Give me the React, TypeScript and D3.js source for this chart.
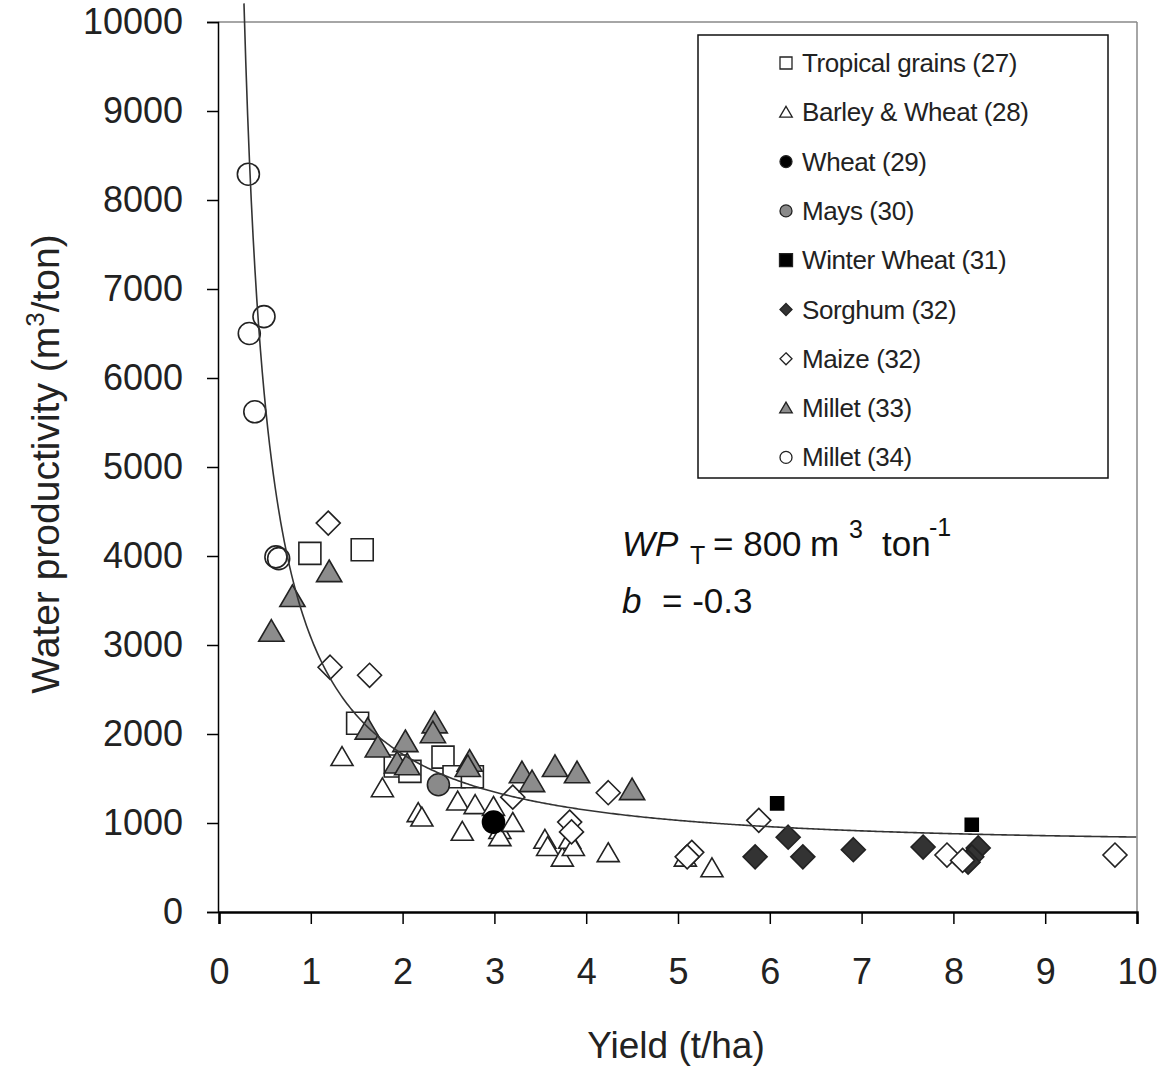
import React, { useEffect, useRef } from "react";
import * as d3 from "d3";

// [yield t/ha, water productivity m3/ton]
const tropicalGrains = [[0.99, 4030], [1.56, 4070], [1.51, 2120], [1.92, 1640], [2.08, 1580], [2.44, 1740], [2.56, 1520], [2.76, 1520]];
const barleyWheat = [[1.34, 1740], [1.78, 1390], [2.17, 1110], [2.21, 1060], [2.6, 1240], [2.79, 1200], [2.65, 900], [2.99, 1180], [3.06, 920], [3.06, 840], [3.2, 1000], [3.55, 810], [3.58, 730], [3.74, 610], [3.82, 810], [3.86, 730], [4.24, 660], [5.08, 610], [5.37, 490]];
const wheat = [[2.99, 1010]];
const mays = [[2.39, 1430]];
const winterWheat = [[6.08, 1220], [8.2, 980]];
const sorghum = [[5.84, 620], [6.2, 840], [6.36, 620], [6.91, 700], [7.67, 730], [8.27, 720], [8.2, 620], [8.16, 560]];
const maize = [[1.19, 4370], [1.21, 2750], [1.64, 2660], [3.2, 1290], [3.82, 1010], [3.84, 900], [4.24, 1340], [5.15, 670], [5.1, 620], [5.88, 1030], [7.93, 640], [8.1, 580], [9.76, 640]];
const millet33 = [[0.57, 3150], [0.8, 3540], [1.2, 3820], [1.62, 2050], [1.73, 1850], [2.03, 1910], [1.94, 1670], [2.05, 1650], [2.35, 2120], [2.33, 2010], [2.73, 1690], [2.71, 1630], [3.3, 1560], [3.41, 1460], [3.66, 1630], [3.9, 1560], [4.5, 1370]];
const millet34 = [[0.32, 8290], [0.33, 6500], [0.49, 6690], [0.39, 5620], [0.62, 3990], [0.65, 3970]];

const xTicks = [0, 1, 2, 3, 4, 5, 6, 7, 8, 9, 10];
const yTicks = [0, 1000, 2000, 3000, 4000, 5000, 6000, 7000, 8000, 9000, 10000];

// fitted model parameters
const WPT = 800;
const B = -0.3;

const series = [
  { name: "Tropical grains (27)", data: tropicalGrains, shape: "square", fill: "#fff", size: 22 },
  { name: "Barley & Wheat (28)", data: barleyWheat, shape: "triangle", fill: "#fff", size: 21 },
  { name: "Wheat (29)", data: wheat, shape: "circle", fill: "#000", size: 22 },
  { name: "Mays (30)", data: mays, shape: "circle", fill: "#8a8a8a", size: 22 },
  { name: "Winter Wheat (31)", data: winterWheat, shape: "square", fill: "#000", size: 13 },
  { name: "Sorghum (32)", data: sorghum, shape: "diamond", fill: "#333", size: 24 },
  { name: "Maize (32)", data: maize, shape: "diamond", fill: "#fff", size: 24 },
  { name: "Millet (33)", data: millet33, shape: "triangle", fill: "#8c8c8c", size: 24 },
  { name: "Millet (34)", data: millet34, shape: "circle", fill: "none", size: 22 },
];

const shapePath = (shape, s) => {
  const h = s / 2;
  if (shape === "square") return `M${-h},${-h}H${h}V${h}H${-h}Z`;
  if (shape === "diamond") return `M0,${-h}L${h},0L0,${h}L${-h},0Z`;
  if (shape === "triangle") return `M0,${-h}L${h * 1.05},${h * 0.8}L${-h * 1.05},${h * 0.8}Z`;
  return d3.arc()({ innerRadius: 0, outerRadius: h, startAngle: 0, endAngle: 2 * Math.PI });
};

const App = () => {
  const ref = useRef(null);

  useEffect(() => {
    const svg = d3.select(ref.current);
    svg.selectAll("*").remove();
    const font = "'Liberation Sans', Arial, sans-serif";

    const x = d3.scaleLinear().domain([0, 10]).range([219, 1137]);
    const y = d3.scaleLinear().domain([0, 10000]).range([912, 22]);

    // frame
    svg.append("line").attr("x1", 218).attr("x2", 1137).attr("y1", y(10000)).attr("y2", y(10000))
      .attr("stroke", "#888").attr("stroke-width", 1.5);
    svg.append("line").attr("x1", 1137).attr("x2", 1137).attr("y1", y(10000)).attr("y2", y(0))
      .attr("stroke", "#888").attr("stroke-width", 1.5);

    const yAxisG = svg.append("g").attr("transform", `translate(${x(0) - 1},0)`)
      .call(d3.axisLeft(y).tickValues(yTicks).tickSize(11).tickPadding(24).tickFormat(d3.format("d")));
    yAxisG.selectAll("text").attr("font-size", 36).attr("font-family", font).attr("fill", "#222");
    yAxisG.selectAll("line, path").attr("stroke", "#000").attr("stroke-width", 1.5);

    const xAxisG = svg.append("g").attr("transform", `translate(0,${y(0)})`)
      .call(d3.axisBottom(x).tickValues(xTicks).tickSize(12).tickPadding(34).tickFormat(d3.format("d")));
    xAxisG.selectAll("text").attr("font-size", 36).attr("font-family", font).attr("fill", "#222");
    xAxisG.selectAll("line, path").attr("stroke", "#000").attr("stroke-width", 1.5);
    xAxisG.select(".domain").attr("stroke-width", 2.5);

    svg.append("text").attr("x", (x(0) + x(10)) / 2 - 2).attr("y", 1058).attr("text-anchor", "middle")
      .attr("font-size", 37).attr("font-family", font).attr("fill", "#222").text("Yield (t/ha)");

    const yl = svg.append("text").attr("transform", `translate(59,464) rotate(-90)`)
      .attr("text-anchor", "middle").attr("font-size", 39).attr("font-family", font).attr("fill", "#222");
    yl.append("tspan").text("Water productivity (m");
    yl.append("tspan").attr("font-size", 26).attr("dy", -15).text("3");
    yl.append("tspan").attr("dy", 15).text("/ton)");

    // points
    series.forEach(s => {
      svg.append("g").selectAll("path").data(s.data).join("path")
        .attr("transform", d => `translate(${x(d[0])},${y(d[1])})`)
        .attr("d", shapePath(s.shape, s.size))
        .attr("fill", s.fill)
        .attr("stroke", s.fill === "#000" ? "#000" : "#222")
        .attr("stroke-width", 1.6);
    });

    // fitted curve WP = WPT / (1 - exp(b*Y))
    const curveX = d3.range(0.272, 10.001, 0.02);
    const line = d3.line().x(d => x(d)).y(d => y(WPT / (1 - Math.exp(B * d))));
    svg.append("path").attr("d", line(curveX)).attr("fill", "none")
      .attr("stroke", "#333").attr("stroke-width", 1.6);

    // legend
    const lg = svg.append("g");
    lg.append("rect").attr("x", 698).attr("y", 35).attr("width", 410).attr("height", 443)
      .attr("fill", "#fff").attr("stroke", "#111").attr("stroke-width", 1.5);
    series.forEach((s, i) => {
      const cy = 63 + i * 49.3;
      lg.append("path").attr("transform", `translate(786,${cy})`)
        .attr("d", shapePath(s.shape, s.shape === "square" && s.fill === "#000" ? 13 : 12))
        .attr("fill", s.fill === "none" ? "#fff" : s.fill).attr("stroke", "#222").attr("stroke-width", 1.3);
      lg.append("text").attr("x", 802).attr("y", cy + 9).attr("font-size", 26)
        .attr("font-family", font).attr("fill", "#222").attr("letter-spacing", -0.4).text(s.name);
    });

    // equation
    const eq = svg.append("text").attr("y", 556).attr("font-size", 35)
      .attr("font-family", font).attr("fill", "#111");
    eq.append("tspan").attr("x", 622).attr("font-style", "italic").text("WP");
    eq.append("tspan").attr("x", 690).attr("font-size", 25).attr("dy", 8).text("T");
    eq.append("tspan").attr("x", 713).attr("dy", -8).text("= 800");
    eq.append("tspan").attr("x", 810).text("m");
    eq.append("tspan").attr("x", 849).attr("font-size", 25).attr("dy", -18).text("3");
    eq.append("tspan").attr("x", 882).attr("dy", 18).text("ton");
    eq.append("tspan").attr("x", 929).attr("font-size", 25).attr("dy", -20).text("-1");

    const eq2 = svg.append("text").attr("y", 613).attr("font-size", 35)
      .attr("font-family", font).attr("fill", "#111");
    eq2.append("tspan").attr("x", 622).attr("font-style", "italic").text("b");
    eq2.append("tspan").attr("x", 662).text("= -0.3");
  }, []);

  return (
    <svg ref={ref} width={1161} height={1066}
      style={{ position: "absolute", left: 0, top: 0, background: "#fff" }} />
  );
};

export default App;
